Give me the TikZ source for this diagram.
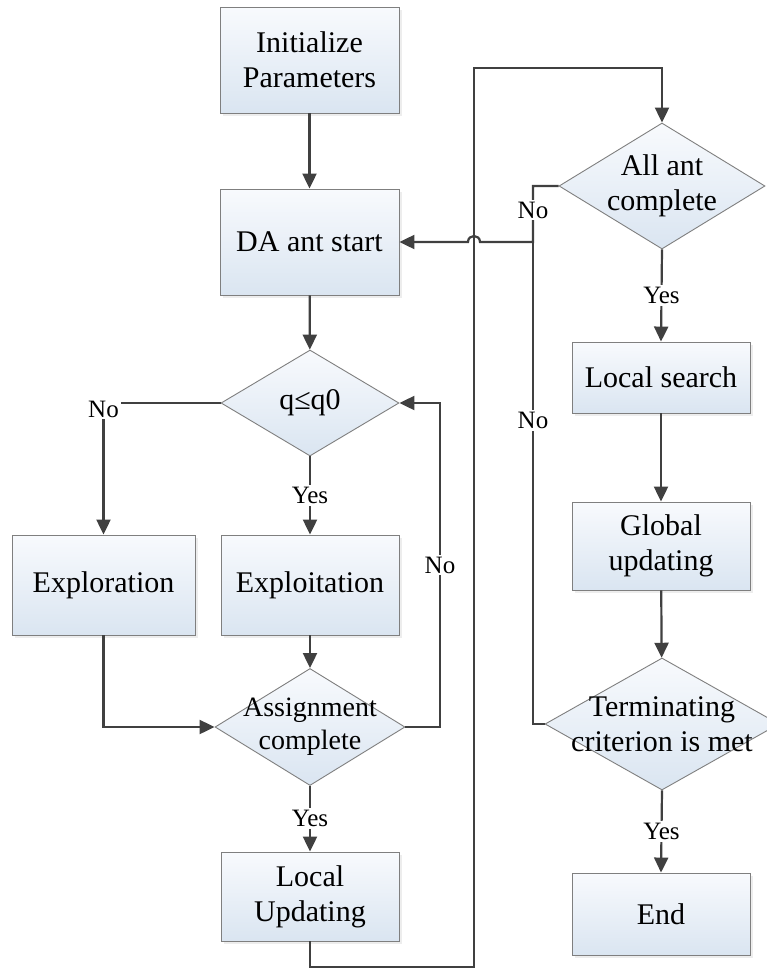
\documentclass[tikz,border=0pt]{standalone}
\usepackage{fontspec}
\setmainfont{Liberation Serif}
\usetikzlibrary{arrows.meta,shapes.geometric,shadows}
\definecolor{linec}{HTML}{404040}
\definecolor{boxb}{HTML}{7F7F7F}
\definecolor{ftop}{HTML}{F8FAFD}
\definecolor{fbot}{HTML}{DAE5F1}
\begin{document}
\begin{tikzpicture}[x=1pt,y=-1pt,
  box/.style={draw=boxb, line width=0.9pt, top color=ftop, bottom color=fbot, inner sep=0pt, align=center,
    font=\fontsize{30}{35}\selectfont, general shadow={fill=black!7, shadow xshift=3pt, shadow yshift=-3pt}},
  dia/.style={diamond, draw=boxb, line width=0.9pt, top color=ftop, bottom color=fbot, inner sep=0pt},
  dtext/.style={align=center, font=\fontsize{30}{35}\selectfont},
  conn/.style={draw=linec, line width=2.2pt, -{Triangle[length=15pt,width=14pt]}},
  plain/.style={draw=linec, line width=2.2pt},
  lbl/.style={fill=white, inner sep=2pt, font=\fontsize{25}{29}\selectfont, text=black}]
\fill[white] (0,0) rectangle (767,969);
\useasboundingbox (0,0) rectangle (767,969);

% left column
\node[box, minimum width=179pt, minimum height=106pt] (init) at (309.5,60) {Initialize\\Parameters};
\node[box, minimum width=179pt, minimum height=106pt] (da) at (309.5,242) {DA ant start};
\node[dia, minimum width=178pt, minimum height=106pt, label={[dtext]center:q≤q0}] (q) at (310,403) {};
\node[box, minimum width=183pt, minimum height=100pt] (explor) at (103.5,585) {Exploration};
\node[box, minimum width=178pt, minimum height=100pt] (exploit) at (310,585) {Exploitation};
\node[dia, minimum width=190pt, minimum height=117pt, label={[dtext, font=\fontsize{28}{33}\selectfont]center:Assignment\\complete}] (assign) at (310,727) {};
\node[box, minimum width=178pt, minimum height=89pt] (lupd) at (310,896.5) {Local\\Updating};

% right column
\node[dia, minimum width=206pt, minimum height=126pt, label={[dtext]center:All ant\\complete}] (allant) at (662,186) {};
\node[box, minimum width=178pt, minimum height=71pt] (lsearch) at (661,377.5) {Local search};
\node[box, minimum width=178pt, minimum height=88pt] (gupd) at (661,546) {Global\\updating};
\node[dia, minimum width=234pt, minimum height=132pt, label={[dtext]center:Terminating\\criterion is met}] (term) at (662,724) {};
\node[box, minimum width=178pt, minimum height=82pt] (endn) at (661,914) {End};

% helper coordinates
\coordinate (c1) at (440,403);
\coordinate (r1) at (474,967);
\coordinate (r2) at (474,68);
\coordinate (j1) at (533,242);
\coordinate (hR) at (480,242);
\coordinate (hL) at (468,242);
\coordinate (hR2) at (480,234);
\coordinate (hL2) at (468,234);

% connectors left
\draw[conn] (init) -- (da);
\draw[conn] (da) -- (q);
\draw[conn] (q.south) -- node[lbl]{Yes} (exploit.north);
\draw[conn] (q.west) -| node[lbl, pos=0.5, yshift=-6pt]{No} (explor.north);
\draw[conn] (explor.south) |- (assign.west);
\draw[conn] (exploit) -- (assign);
\draw[conn] (assign.east) -| node[lbl, pos=0.75]{No} (c1) -- (q.east);
\draw[conn] (assign.south) -- node[lbl]{Yes} (lupd.north);

% long route to right column
\draw[conn] (lupd.south) |- (r1) -- (r2) -| (allant.north);

% right column connectors
\draw[conn] (allant.west) -| node[lbl, pos=0.75, yshift=4pt]{No} (j1) -- (hR) .. controls (hR2) and (hL2) .. (hL) -- (da.east);
\draw[plain] (term.west) -| node[lbl, pos=0.815]{No} (j1);
\draw[conn] (allant.south) -- node[lbl]{Yes} (lsearch.north);
\draw[conn] (lsearch) -- (gupd);
\draw[conn] (gupd) -- (term);
\draw[conn] (term.south) -- node[lbl]{Yes} (endn.north);
\end{tikzpicture}
\end{document}
